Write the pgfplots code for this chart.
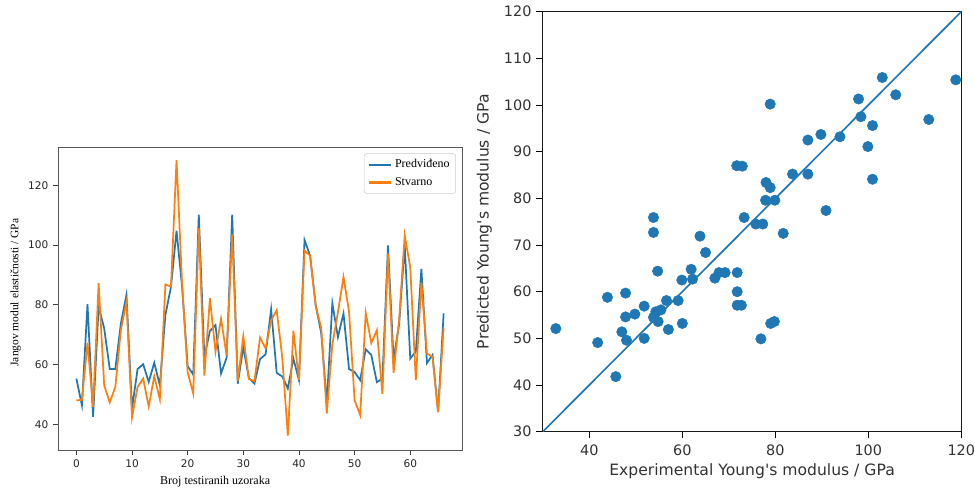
\documentclass[border=0pt]{standalone}
\usepackage{fontspec}
\setmainfont{Liberation Serif}
\newfontfamily\dejavu{DejaVu Sans}
\usepackage{pgfplots}
\pgfplotsset{compat=1.18}
\definecolor{mplblue}{HTML}{1F77B4}
\definecolor{mplorange}{HTML}{FF7F0E}
\begin{document}
\begin{tikzpicture}
\path[use as bounding box] (0,0) rectangle (731.25pt,367.5pt);
\begin{axis}[
  at={(43.5pt,30pt)}, anchor=south west,
  scale only axis, width=303pt, height=227pt,
  xmin=-3.3, xmax=69.3, ymin=31.4, ymax=132.7,
  xtick={0,10,...,60}, ytick={40,60,...,120},
  tick align=outside, tick pos=left, major tick length=3.8pt,
  axis line style={black!65, line width=0.75pt},
  tick style={black!75, line width=0.6pt},
  ticklabel style={font=\dejavu\fontsize{7.9}{9}\selectfont, text=black!85},
  /pgf/number format/assume math mode=true,
  xlabel={Broj testiranih uzoraka},
  ylabel={Jangov modul elastičnosti / GPa},
  xlabel style={font=\fontsize{9}{10}\selectfont, at={(axis description cs:0.389,-0.105)}, anchor=center},
  ylabel style={font=\fontsize{8.6}{10}\selectfont, at={(axis description cs:-0.105,0.52)}, anchor=center},
  legend style={at={(axis description cs:0.985,0.98)}, anchor=north east, draw=black!20, rounded corners=2pt,
    font=\fontsize{9}{10}\selectfont, row sep=1.6pt, inner sep=2.5pt},
  legend cell align=left,
  legend image code/.code={\draw[#1, line width=1.7pt] (0pt,0pt) -- (17pt,0pt);},
]
\addplot[mplblue, line width=1.3pt] coordinates {
(0,55.3)(1,46.4)(2,80.2)(3,42.5)(4,79.4)(5,72.1)(6,58.5)(7,58.5)(8,73.8)(9,83.3)
(10,45.3)(11,58.5)(12,60.1)(13,54.2)(14,60.6)(15,53.1)(16,76.6)(17,86.0)(18,104.8)(19,86)
(20,59.5)(21,56.6)(22,110.2)(23,62.5)(24,71.2)(25,73.2)(26,57)(27,62.3)(28,110.2)(29,53.6)
(30,65.8)(31,55.5)(32,53.6)(33,61.8)(34,63.4)(35,78.5)(36,57.2)(37,56)(38,52)(39,62)
(40,54.8)(41,101.7)(42,96.5)(43,80)(44,70.5)(45,47.2)(46,80.5)(47,69.2)(48,77.1)(49,58.5)
(50,57.5)(51,54.8)(52,65.1)(53,63.2)(54,54.1)(55,55.3)(56,99.9)(57,61.8)(58,73.5)(59,100)
(60,62)(61,64.3)(62,92)(63,60.5)(64,63.2)(65,44.1)(66,77.1)
};
\addlegendentry{Predviđeno}
\addplot[mplorange, line width=1.3pt] coordinates {
(0,48)(1,48.2)(2,67.3)(3,45.8)(4,87.2)(5,53)(6,47.3)(7,52.5)(8,71.5)(9,81)
(10,42.3)(11,52.5)(12,55.3)(13,46)(14,56.1)(15,48.4)(16,86.8)(17,86.1)(18,128.4)(19,87)
(20,57.4)(21,50.3)(22,105.7)(23,56.3)(24,82.2)(25,64.3)(26,75.3)(27,63)(28,103.5)(29,54.5)
(30,69.5)(31,55.2)(32,54.4)(33,69)(34,65.4)(35,74.7)(36,78.2)(37,62.3)(38,36.2)(39,71.3)
(40,54.8)(41,98.2)(42,96.4)(43,79.7)(44,72.3)(45,43.6)(46,66.8)(47,77.5)(48,89.3)(49,77.7)
(50,48)(51,43.1)(52,77.2)(53,67.2)(54,71.5)(55,50.1)(56,97.1)(57,57.2)(58,75.1)(59,103.2)
(60,92.5)(61,54.8)(62,87.4)(63,63.7)(64,62.6)(65,44.1)(66,72.3)
};
\addlegendentry{Stvarno}
\end{axis}
\begin{axis}[
  at={(407.1pt,43.725pt)}, anchor=south west,
  scale only axis, width=313.9pt, height=315pt,
  xmin=30, xmax=120, ymin=30, ymax=120,
  xtick={40,60,...,120}, ytick={30,40,...,120},
  tick align=outside, tick pos=left, major tick length=5pt,
  axis line style={black!90, line width=0.9pt},
  tick style={black, line width=0.8pt},
  ticklabel style={font=\dejavu\fontsize{10.8}{12}\selectfont, text=black!80},
  xticklabel style={yshift=-1.5pt},
  /pgf/number format/assume math mode=true,
  xlabel={Experimental Young's modulus / GPa},
  ylabel={Predicted Young's modulus / GPa},
  xlabel style={font=\dejavu\fontsize{11.7}{13}\selectfont, text=black!80, at={(axis description cs:0.5,-0.095)}, anchor=center},
  ylabel style={font=\dejavu\fontsize{11.7}{13}\selectfont, text=black!80, at={(axis description cs:-0.14,0.5)}, anchor=center},
]
\addplot[only marks, mark=*, mark size=3.9pt, mplblue, mark options={draw=mplblue, fill=mplblue}] coordinates {
(71.7,87.0)(72.9,86.9)(53.8,75.9)(53.8,72.7)(63.8,71.9)(73.3,75.9)(75.8,74.5)(65.0,68.4)
(103.0,105.9)(118.8,105.4)(97.9,101.3)(105.9,102.2)(78.9,100.2)(98.4,97.5)(100.9,95.6)(113.0,96.9)
(87.0,92.5)(89.8,93.7)(93.9,93.2)(99.9,91.1)(100.9,84.1)(83.7,85.2)(87.0,85.2)(78.0,83.4)
(78.9,82.3)(77.9,79.6)(79.9,79.6)(90.9,77.4)(77.3,74.5)(81.7,72.5)
(54.7,64.4)(61.9,64.8)(59.9,62.5)(62.2,62.7)(67.0,62.9)(67.9,64.1)(69.2,64.1)(71.8,64.1)
(71.8,60.0)(71.8,57.1)(72.7,57.1)(47.8,59.7)(43.9,58.8)(51.8,56.9)(56.6,58.1)(59.1,58.1)
(47.8,54.6)(49.8,55.2)(54.3,55.7)(55.4,56.1)(53.8,54.5)(54.8,53.6)(57.0,51.9)(60.0,53.2)
(51.8,50.0)(47.0,51.4)(48.0,49.6)(41.8,49.1)(32.8,52.1)(45.7,41.8)(76.9,49.9)(79.0,53.2)(79.8,53.6)
};
\addplot[mplblue, line width=1.25pt] coordinates {(30,30)(120,120)};
\node[font=\dejavu\fontsize{11.7}{13}\selectfont, text=black!80, anchor=center] at (axis description cs:0.937,-0.096) {(b)};
\end{axis}
\end{tikzpicture}
\end{document}
